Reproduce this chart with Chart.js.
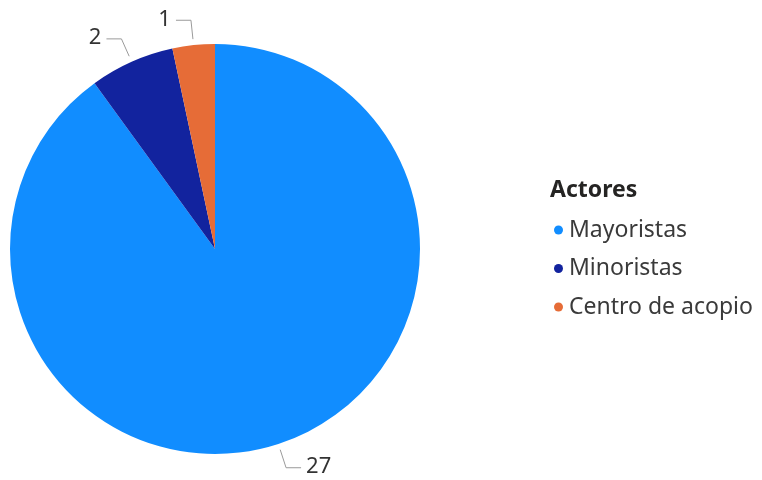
<!DOCTYPE html>
<html>
<head>
<meta charset="utf-8">
<script src="https://cdn.jsdelivr.net/npm/chart.js@4"></script>
<style>
  html, body { margin: 0; padding: 0; background: #fff; }
  #wrap { width: 762px; height: 480px; position: relative; }
</style>
</head>
<body>
<div id="wrap"><canvas id="pie"></canvas></div>
<script>
// Actores - pie with outside labels and legend on the right
const categories = ['Mayoristas', 'Minoristas', 'Centro de acopio'];
const counts = [27, 2, 1];
const colors = ['#118DFF', '#12239E', '#E66C37'];
const legendTitle = 'Actores';

const FONT = '"Segoe UI", "Noto Sans", sans-serif';

// leader lines + value labels outside each slice
const outsideLabels = {
    id: 'outsideLabels',
    afterDatasetsDraw(chart) {
        const ctx = chart.ctx;
        const meta = chart.getDatasetMeta(0);
        ctx.save();
        meta.data.forEach((arc, i) => {
            const mid = (arc.startAngle + arc.endAngle) / 2;
            const r = arc.outerRadius;
            const cos = Math.cos(mid), sin = Math.sin(mid);
            const x0 = arc.x + cos * (r + 6), y0 = arc.y + sin * (r + 6);
            const x1 = arc.x + cos * (r + 25), y1 = arc.y + sin * (r + 25);
            const dir = cos >= 0 ? 1 : -1;
            const x2 = x1 + dir * 15;
            ctx.strokeStyle = '#9a9a9a';
            ctx.lineWidth = 1;
            ctx.beginPath();
            ctx.moveTo(x0, y0);
            ctx.lineTo(x1, y1);
            ctx.lineTo(x2, y1);
            ctx.stroke();
            ctx.fillStyle = '#333333';
            ctx.font = '22px ' + FONT;
            ctx.textBaseline = 'middle';
            ctx.textAlign = dir > 0 ? 'left' : 'right';
            ctx.fillText(String(counts[i]), x2 + dir * 5, y1 - 1);
        });
        ctx.restore();
    }
};

// legend block drawn at the right side
const sideLegend = {
    id: 'sideLegend',
    afterDraw(chart) {
        const ctx = chart.ctx;
        ctx.save();
        ctx.textBaseline = 'middle';
        ctx.textAlign = 'left';
        ctx.fillStyle = '#252423';
        ctx.font = 'bold 23px ' + FONT;
        ctx.fillText(legendTitle, 550, 190);
        ctx.font = '23px ' + FONT;
        categories.forEach((name, i) => {
            const y = 230 + i * 38.5;
            ctx.fillStyle = colors[i];
            ctx.beginPath();
            ctx.arc(558.5, y, 4.5, 0, Math.PI * 2);
            ctx.fill();
            ctx.fillStyle = '#3a3a3a';
            ctx.fillText(name, 569, y);
        });
        ctx.restore();
    }
};

new Chart(document.getElementById('pie').getContext('2d'), {
    type: 'pie',
    data: {
        labels: categories,
        datasets: [{
            data: counts,
            backgroundColor: colors,
            borderWidth: 0
        }]
    },
    options: {
        responsive: true,
        maintainAspectRatio: false,
        animation: false,
        layout: { padding: { left: 10, right: 342, top: 44, bottom: 26 } },
        plugins: {
            legend: { display: false },
            tooltip: { enabled: false }
        }
    },
    plugins: [outsideLabels, sideLegend]
});
</script>
</body>
</html>
